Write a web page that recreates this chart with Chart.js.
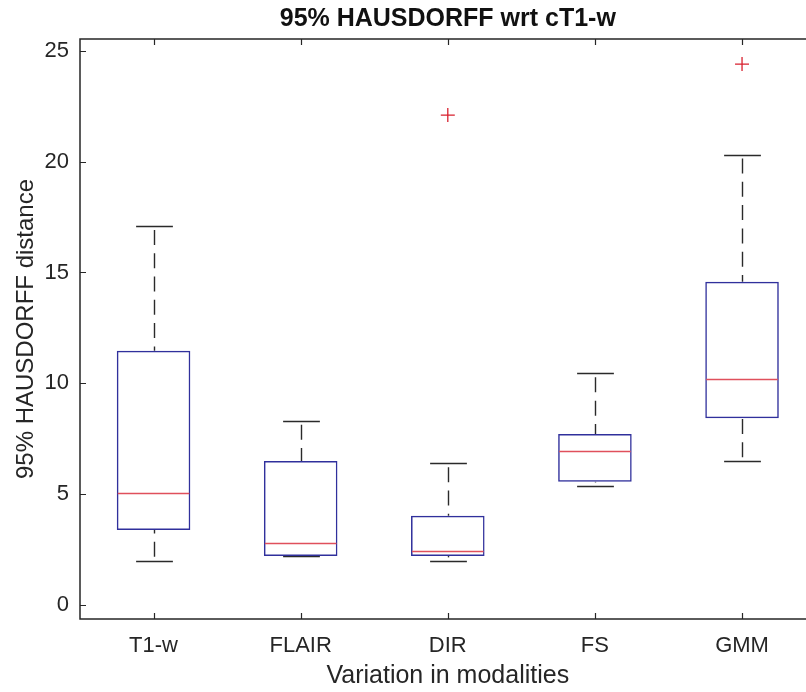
<!DOCTYPE html>
<html>
<head>
<meta charset="utf-8">
<script src="https://cdn.jsdelivr.net/npm/chart.js@4.4.1/dist/chart.umd.min.js"></script>
<style>
  html, body { margin: 0; padding: 0; overflow: hidden; background: #fff; }
  #wrap { width: 896px; height: 692px; }
</style>
</head>
<body>
<div id="wrap"><canvas id="c" width="896" height="692"></canvas></div>
<script>
// Box-plot statistics per imaging modality (95% Hausdorff distance)
const categories   = ['T1-w', 'FLAIR', 'DIR', 'FS', 'GMM'];
const lowerWhisker = [2.00, 2.21, 1.97, 5.35, 6.48];
const q1           = [3.38, 2.21, 2.21, 5.56, 8.42];
const median       = [5.04, 2.80, 2.44, 6.95, 10.20];
const q3           = [11.47, 6.50, 4.03, 7.71, 14.58];
const upperWhisker = [17.10, 8.31, 6.40, 10.45, 20.32];
const outliers     = [null, null, 22.10, null, 24.40];
const yTicks       = [0, 5, 10, 15, 20, 25];
const chartTitle   = '95% HAUSDORFF wrt cT1-w';

const FONT = "'Liberation Sans', Arial, Helvetica, sans-serif";
const AXIS = '#262626';
const BOX_BLUE = '#30309c';
const MED_RED = '#e0505c';

// whiskers, caps, medians, frame and title drawn with the chart's own scales
const boxParts = {
  id: 'boxParts',
  beforeDatasetsDraw(chart) {
    const { ctx, scales: { x, y } } = chart;
    const step = x.getPixelForValue(1) - x.getPixelForValue(0);
    const capHalf = step * 0.125;
    ctx.save();
    ctx.strokeStyle = '#2a2a2a';
    ctx.lineWidth = 1.4;
    categories.forEach((_, i) => {
      const cx = Math.round(x.getPixelForValue(i)) + 0.5;
      const pairs = [[upperWhisker[i], q3[i]], [lowerWhisker[i], q1[i]]];
      pairs.forEach(([w, edge]) => {
        const yw = y.getPixelForValue(w);
        const ye = y.getPixelForValue(edge);
        // dashed whisker from the cap to the box edge
        ctx.setLineDash([15, 8.3]);
        ctx.lineDashOffset = 19.3;
        ctx.beginPath();
        ctx.moveTo(cx, yw);
        ctx.lineTo(cx, ye);
        ctx.stroke();
        // solid cap
        ctx.setLineDash([]);
        ctx.beginPath();
        ctx.moveTo(cx - capHalf, Math.round(yw) + 0.5);
        ctx.lineTo(cx + capHalf, Math.round(yw) + 0.5);
        ctx.stroke();
      });
    });
    ctx.restore();
  },
  afterDatasetsDraw(chart) {
    const { ctx, scales: { x, y }, chartArea: a } = chart;
    const step = x.getPixelForValue(1) - x.getPixelForValue(0);
    const boxHalf = step * 0.25;
    ctx.save();
    ctx.strokeStyle = MED_RED;
    ctx.lineWidth = 1.3;
    categories.forEach((_, i) => {
      const cx = x.getPixelForValue(i);
      const ym = Math.round(y.getPixelForValue(median[i])) + 0.5;
      ctx.beginPath();
      ctx.moveTo(cx - boxHalf + 1, ym);
      ctx.lineTo(cx + boxHalf - 1, ym);
      ctx.stroke();
    });
    // axes frame with inward ticks on all four sides
    ctx.strokeStyle = AXIS;
    ctx.lineWidth = 1.5;
    ctx.strokeRect(a.left, a.top, a.right - a.left, a.bottom - a.top);
    ctx.lineWidth = 1.2;
    const tl = 6;
    ctx.beginPath();
    yTicks.forEach(v => {
      const py = Math.round(y.getPixelForValue(v)) + 0.5;
      ctx.moveTo(a.left, py); ctx.lineTo(a.left + tl, py);
      ctx.moveTo(a.right, py); ctx.lineTo(a.right - tl, py);
    });
    categories.forEach((_, i) => {
      const px = Math.round(x.getPixelForValue(i)) + 0.5;
      ctx.moveTo(px, a.bottom); ctx.lineTo(px, a.bottom - tl);
      ctx.moveTo(px, a.top); ctx.lineTo(px, a.top + tl);
    });
    ctx.stroke();
    // title centred over the axes
    ctx.fillStyle = '#111';
    ctx.font = 'bold 25px ' + FONT;
    ctx.textAlign = 'center';
    ctx.textBaseline = 'middle';
    ctx.fillText(chartTitle, (a.left + a.right) / 2, 19);
    ctx.restore();
  }
};

new Chart(document.getElementById('c'), {
  type: 'bar',
  data: {
    labels: categories,
    datasets: [
      {
        type: 'bar',
        data: categories.map((_, i) => [q1[i], q3[i]]),
        backgroundColor: 'rgba(0,0,0,0)',
        borderColor: BOX_BLUE,
        borderWidth: 1.5,
        borderSkipped: false,
        barPercentage: 0.5,
        categoryPercentage: 1.0,
        order: 2
      },
      {
        type: 'line',
        data: outliers,
        showLine: false,
        pointStyle: 'cross',
        pointRadius: 7,
        pointBorderWidth: 1.3,
        borderColor: '#d8202e',
        backgroundColor: '#d8202e',
        order: 1
      }
    ]
  },
  options: {
    responsive: false,
    animation: false,
    devicePixelRatio: 1,
    layout: { padding: { left: 0, right: 80.4, top: 39, bottom: 0 } },
    plugins: {
      legend: { display: false },
      tooltip: { enabled: false },
      title: { display: false }
    },
    scales: {
      x: {
        type: 'category',
        offset: true,
        grid: { display: false, drawTicks: false },
        border: { display: false },
        ticks: { color: AXIS, font: { family: FONT, size: 22 }, padding: 14, maxRotation: 0 },
        title: {
          display: true,
          text: 'Variation in modalities',
          color: AXIS,
          font: { family: FONT, size: 25 },
          padding: { top: 0, bottom: 1 }
        },
        afterFit(scale) { scale.height = 73; }
      },
      y: {
        type: 'linear',
        min: -0.63,
        max: 25.53,
        grid: { display: false, drawTicks: false },
        border: { display: false },
        ticks: { color: AXIS, font: { family: FONT, size: 22 }, padding: 11 },
        afterBuildTicks(scale) { scale.ticks = yTicks.map(v => ({ value: v })); },
        title: {
          display: true,
          text: '95% HAUSDORFF distance',
          color: AXIS,
          font: { family: FONT, size: 24 },
          padding: { top: 12, bottom: 0 }
        },
        afterFit(scale) { scale.width = 80; }
      }
    }
  },
  plugins: [boxParts]
});
</script>
</body>
</html>
